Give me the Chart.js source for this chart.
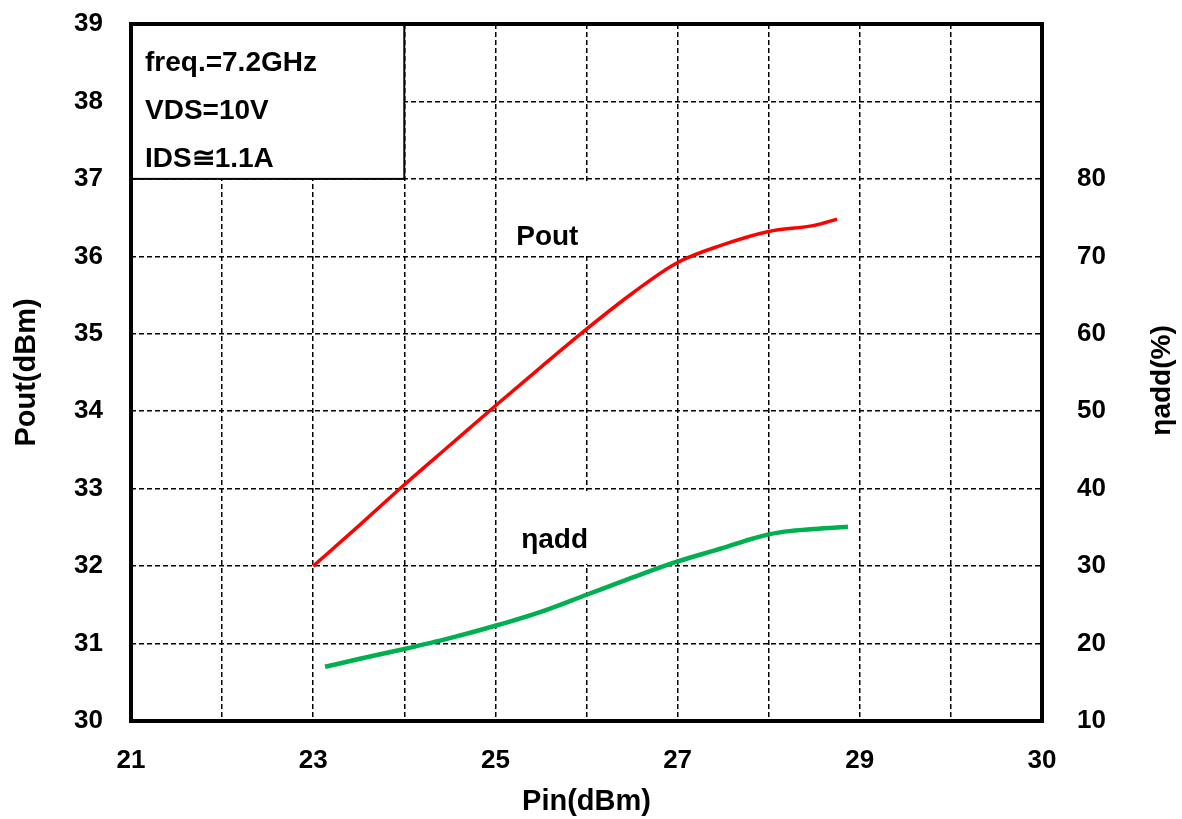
<!DOCTYPE html>
<html>
<head>
<meta charset="utf-8">
<script src="https://cdn.jsdelivr.net/npm/chart.js@4/dist/chart.umd.min.js"></script>
<style>
  body { margin: 0; background: #fff; }
  #wrap { width: 1182px; height: 819px; }
</style>
</head>
<body>
<div id="wrap"><canvas id="chart"></canvas></div>
<script>
'use strict'

const FONT = '"Liberation Sans", Arial, sans-serif'

// Pout curve (left axis)
const pinPout = [23.0, 23.5, 24.0, 24.5, 25.0, 25.5, 26.0, 26.5, 27.0, 27.5, 28.0, 28.5, 28.75]
const poutValues = [32.0, 32.52, 33.05, 33.56, 34.07, 34.57, 35.06, 35.52, 35.92, 36.15, 36.32, 36.4, 36.48]

// added efficiency curve (right axis)
const pinEff = [23.13, 23.5, 24.0, 24.5, 25.0, 25.5, 26.0, 26.5, 27.0, 27.5, 27.75, 28.0, 28.25, 28.5, 28.87]
const effValues = [17.0, 18.0, 19.3, 20.7, 22.3, 24.1, 26.3, 28.5, 30.6, 32.35, 33.3, 34.1, 34.55, 34.8, 35.07]

// tick labels as printed on the original
const xTickLabels = ['21', '', '23', '', '25', '', '27', '', '29', '', '30']
const rightTickLabels = [10, 20, 30, 40, 50, 60, 70, 80]

const infoLines = ['freq.=7.2GHz', 'VDS=10V', 'IDS\u22451.1A']

const ctx = document.getElementById('chart')

const overlay = {
  id: 'overlay',
  beforeDatasetsDraw(chart) {
    const c = chart.ctx
    const x = chart.scales.x
    const y = chart.scales.y
    c.save()
    // info box
    const bx1 = x.getPixelForValue(21)
    const bx2 = x.getPixelForValue(24)
    const by1 = y.getPixelForValue(39)
    const by2 = y.getPixelForValue(37)
    c.fillStyle = '#fff'
    c.fillRect(bx1, by1, bx2 - bx1, by2 - by1)
    c.strokeStyle = '#000'
    c.lineWidth = 2
    c.strokeRect(bx1, by1, bx2 - bx1, by2 - by1)
    c.fillStyle = '#000'
    c.font = 'bold 28px ' + FONT
    c.textAlign = 'left'
    c.textBaseline = 'alphabetic'
    infoLines.forEach((t, i) => c.fillText(t, bx1 + 14, by1 + 47 + i * 48))

    // white cells behind the series labels
    c.fillStyle = '#fff'
    const cell = (x1, x2, y1, y2) => {
      const px1 = x.getPixelForValue(x1), px2 = x.getPixelForValue(x2)
      const py1 = y.getPixelForValue(y1), py2 = y.getPixelForValue(y2)
      c.fillRect(px1, py1, px2 - px1, py2 - py1)
    }
    cell(25.1, 26.9, 36.97, 36.03)
    cell(25.1, 26.9, 32.97, 32.03)

    c.fillStyle = '#000'
    c.font = 'bold 28px ' + FONT
    c.textAlign = 'center'
    c.textBaseline = 'alphabetic'
    c.fillText('Pout', x.getPixelForValue(25.57), y.getPixelForValue(36.14))
    c.fillText('\u03b7add', x.getPixelForValue(25.65), y.getPixelForValue(32.23))
    c.restore()
  },
  afterDatasetsDraw(chart) {
    const c = chart.ctx
    const a = chart.chartArea
    c.save()
    c.strokeStyle = '#000'
    c.lineWidth = 4
    c.strokeRect(a.left, a.top, a.right - a.left, a.bottom - a.top)
    // right axis title, rotated like the left one
    c.fillStyle = '#000'
    c.font = 'bold 28px ' + FONT
    c.textAlign = 'center'
    c.textBaseline = 'middle'
    c.translate(1162, (a.top + a.bottom) / 2 + 8)
    c.rotate(-Math.PI / 2)
    c.fillText('\u03b7add(%)', 0, 0)
    c.restore()
  }
}

const tickFont = { family: FONT, size: 26, weight: 'bold' }
const titleFont = { family: FONT, size: 29, weight: 'bold' }

const fitY = w => s => {
  s.width = w
  s.paddingTop = 0
  s.paddingBottom = 0
}

const chart = new Chart(ctx, {
  type: 'line',
  data: {
    datasets: [{
      label: 'Pout',
      data: pinPout.map((v, i) => ({ x: v, y: poutValues[i] })),
      borderColor: '#ff0000',
      borderWidth: 3.5,
      pointRadius: 0,
      cubicInterpolationMode: 'monotone',
      yAxisID: 'y'
    }, {
      label: '\u03b7add',
      data: pinEff.map((v, i) => ({ x: v, y: effValues[i] })),
      borderColor: '#00b050',
      borderWidth: 4.5,
      pointRadius: 0,
      cubicInterpolationMode: 'monotone',
      yAxisID: 'y2'
    }]
  },
  options: {
    responsive: true,
    maintainAspectRatio: false,
    animation: false,
    layout: { padding: { top: 24, left: 0, right: 0, bottom: 0 } },
    plugins: {
      legend: { display: false },
      tooltip: { enabled: false }
    },
    scales: {
      x: {
        type: 'linear',
        min: 21,
        max: 31,
        afterFit: s => {
          s.height = 98
          s.paddingLeft = 0
          s.paddingRight = 0
        },
        ticks: {
          stepSize: 1,
          autoSkip: false,
          maxRotation: 0,
          padding: 24,
          color: '#000',
          font: tickFont,
          callback: (v, i) => xTickLabels[i]
        },
        grid: { color: '#000', lineWidth: 1.5, drawTicks: false },
        border: { display: false, dash: [5, 3] },
        title: { display: true, text: 'Pin(dBm)', color: '#000', font: titleFont, padding: { top: 0, bottom: 0 } }
      },
      y: {
        type: 'linear',
        position: 'left',
        min: 30,
        max: 39,
        afterFit: fitY(131),
        ticks: { stepSize: 1, padding: 28, color: '#000', font: tickFont },
        grid: { color: '#000', lineWidth: 1.5, drawTicks: false },
        border: { display: false, dash: [5, 3] },
        title: { display: true, text: 'Pout(dBm)', color: '#000', font: titleFont, padding: { top: 10, bottom: 0 } }
      },
      y2: {
        type: 'linear',
        position: 'right',
        min: 10,
        max: 100,
        afterFit: fitY(140),
        ticks: {
          stepSize: 10,
          padding: 35,
          color: '#000',
          font: tickFont,
          callback: v => rightTickLabels.includes(v) ? String(v) : ''
        },
        grid: { drawOnChartArea: false, drawTicks: false },
        border: { display: false }
      }
    }
  },
  plugins: [overlay]
})
</script>
</body>
</html>
